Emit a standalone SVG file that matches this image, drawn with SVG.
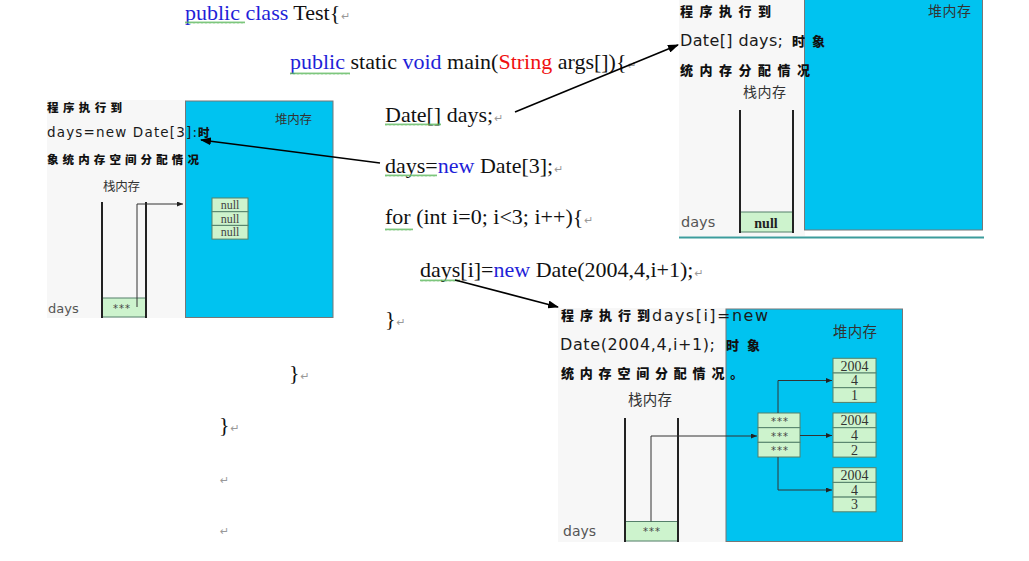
<svg xmlns="http://www.w3.org/2000/svg" width="1029" height="561" viewBox="0 0 1029 561">
<defs>
<pattern id="sq" x="0" y="0" width="4" height="3" patternUnits="userSpaceOnUse"><path d="M0 2.5 L1 0.5 L2 2.5 L3 0.5 L4 2.5" fill="none" stroke="#5cb85c" stroke-width="0.8"/></pattern>
<marker id="ah" markerWidth="11" markerHeight="8" refX="10" refY="4" orient="auto" markerUnits="userSpaceOnUse"><path d="M0 0 L11 4 L0 8 z" fill="#000"/></marker>
<marker id="sa" markerWidth="6" markerHeight="5" refX="6" refY="2.5" orient="auto" markerUnits="userSpaceOnUse"><path d="M0 0 L6 2.5 L0 5 z" fill="#222"/></marker>
</defs>
<style>
.code{font-family:"Liberation Serif",serif;font-size:22px;fill:#111}
.kw{fill:#1f1fd8}
.red{fill:#f01010}
.ret{font-family:"DejaVu Sans",sans-serif;font-size:11px;fill:#999}
.sq{fill:url(#sq)}
.cn{font-family:"Noto Sans CJK SC",sans-serif;font-weight:900;fill:#111}
.lat{font-family:"DejaVu Sans",sans-serif;fill:#1a1a1a}
.lbl{font-family:"Noto Sans CJK SC",sans-serif;fill:#333}
.heap{fill:#00c3f0;stroke:#777;stroke-width:1}
.bg{fill:#f7f7f7}
.cell{fill:#cdf3cd;stroke:#55806a;stroke-width:1}
.wall{stroke:#222;stroke-width:2;fill:none}
.ln{stroke:#333;stroke-width:1;fill:none}
.big{stroke:#000;stroke-width:1.6;fill:none}
.num{font-family:"Liberation Serif",serif;font-size:14px;fill:#333;text-anchor:middle}
.nul{font-family:"Liberation Serif",serif;font-size:12px;fill:#444;text-anchor:middle}
.star{font-family:"DejaVu Sans",sans-serif;font-size:10px;fill:#444;text-anchor:middle;letter-spacing:1px}
.days{font-family:"DejaVu Sans",sans-serif;fill:#555}
</style>
<rect x="0" y="0" width="1029" height="561" fill="#fff"/>

<g id="code">
<text class="code" x="185" y="20"><tspan class="kw">public class</tspan> Test{<tspan class="ret" dx="1">↵</tspan></text>
<text class="code" x="290" y="68.5"><tspan class="kw">public</tspan> static <tspan class="kw">void</tspan> main(<tspan class="red">String</tspan> args[]){<tspan class="ret" dx="1">↵</tspan></text>
<text class="code" x="385" y="121.5">Date[] days;<tspan class="ret" dx="1">↵</tspan></text>
<text class="code" x="385" y="172.5">days=<tspan class="kw">new</tspan> Date[3];<tspan class="ret" dx="1">↵</tspan></text>
<text class="code" x="385" y="224">for (int i=0; i&lt;3; i++){<tspan class="ret" dx="1">↵</tspan></text>
<text class="code" x="420" y="276.5">days[i]=<tspan class="kw">new</tspan> Date(2004,4,i+1);<tspan class="ret" dx="1">↵</tspan></text>
<text class="code" x="385" y="326">}<tspan class="ret" dx="1">↵</tspan></text>
<text class="code" x="289" y="380">}<tspan class="ret" dx="1">↵</tspan></text>
<text class="code" x="219" y="432">}<tspan class="ret" dx="1">↵</tspan></text>
<text class="ret" x="220" y="484">↵</text>
<text class="ret" x="220" y="535">↵</text>
<rect class="sq" x="185" y="21" width="60" height="3"/>
<rect class="sq" x="290" y="72" width="60" height="3"/>
<rect class="sq" x="385" y="123" width="56" height="3"/>
<rect class="sq" x="385" y="174" width="52" height="3"/>
<rect class="sq" x="385" y="228" width="28" height="3"/>
<rect class="sq" x="420" y="279" width="40" height="3"/>
</g>

<g id="panel-left">
<rect class="bg" x="47" y="100" width="139" height="218"/>
<rect class="heap" x="185.5" y="101" width="147.5" height="216.5"/>
<text class="lbl" x="275" y="124" font-size="12.5" textLength="37" lengthAdjust="spacing">堆内存</text>
<text class="cn" x="47" y="112" font-size="11.5" letter-spacing="4.4">程序执行到</text>
<text class="lat" x="47" y="137" font-size="13.5" textLength="150" lengthAdjust="spacing">days=new Date[3]:</text>
<text class="cn" x="198" y="137" font-size="11.5">时</text>
<text class="cn" x="47" y="164" font-size="11.5" letter-spacing="4.1">象统内存空间分配情况</text>
<text class="lbl" x="103" y="191" font-size="12.5" textLength="37" lengthAdjust="spacing">栈内存</text>
<rect class="cell" x="102" y="298" width="44" height="19"/>
<path class="wall" d="M102 202 V318 M146 202 V318"/>
<text class="star" x="122" y="312">***</text>
<text class="days" x="48" y="313" font-size="13">days</text>
</g>

<g id="null-array">
<rect class="cell" x="212" y="198" width="36" height="13.7"/>
<rect class="cell" x="212" y="211.7" width="36" height="13.7"/>
<rect class="cell" x="212" y="225.4" width="36" height="13.7"/>
<text class="nul" x="230" y="209">null</text>
<text class="nul" x="230" y="222.5">null</text>
<text class="nul" x="230" y="236">null</text>
</g>

<g id="panel-top-right">
<rect class="bg" x="679" y="0" width="126" height="236"/>
<rect class="heap" x="804.5" y="-1" width="178" height="231"/>
<path d="M679 237.5 H984" stroke="#3c9c9c" stroke-width="2"/>
<text class="lbl" x="928" y="16" font-size="14" textLength="43" lengthAdjust="spacing">堆内存</text>
<text class="cn" x="680" y="16" font-size="13" letter-spacing="6.5">程序执行到</text>
<text class="lat" x="680" y="45.5" font-size="16" textLength="103" lengthAdjust="spacing">Date[] days;</text>
<text class="cn" x="792" y="45.5" font-size="13">时</text>
<text class="cn" x="812" y="45.5" font-size="13">象</text>
<text class="cn" x="680" y="75" font-size="13" letter-spacing="6.5">统内存分配情况</text>
<text class="lbl" x="743" y="97" font-size="14" textLength="43" lengthAdjust="spacing">栈内存</text>
<rect class="cell" x="740" y="212" width="53" height="20"/>
<path class="wall" d="M740 110 V233 M793 110 V233"/>
<text x="766" y="227.5" font-family="Liberation Serif, serif" font-weight="bold" font-size="14" fill="#222" text-anchor="middle">null</text>
<text class="days" x="681" y="227" font-size="14.5">days</text>
</g>

<g id="panel-bottom-right">
<rect class="bg" x="558" y="308" width="168" height="234"/>
<rect class="heap" x="726" y="309" width="176.5" height="232.5"/>
<text class="lbl" x="833" y="337" font-size="14.5" textLength="44" lengthAdjust="spacing">堆内存</text>
<text class="cn" x="561" y="320" font-size="13" letter-spacing="6">程序执行到</text>
<text class="lat" x="652" y="321" font-size="16" textLength="116" lengthAdjust="spacing">days[i]=new</text>
<text class="lat" x="560" y="350" font-size="16" textLength="155" lengthAdjust="spacing">Date(2004,4,i+1);</text>
<text class="cn" x="726" y="350" font-size="13">时</text>
<text class="cn" x="747" y="350" font-size="13">象</text>
<text class="cn" x="561" y="378" font-size="13" letter-spacing="5.8">统内存空间分配情况。</text>
<text class="lbl" x="628" y="405" font-size="14.5" textLength="44" lengthAdjust="spacing">栈内存</text>
<rect class="cell" x="625" y="521.5" width="53" height="19.5"/>
<path class="wall" d="M625 418 V542 M678 418 V542"/>
<text class="star" x="652" y="535">***</text>
<text class="days" x="563" y="536" font-size="14">days</text>
</g>

<g id="ref-array">
<rect class="cell" x="758" y="413" width="42" height="14.67"/>
<rect class="cell" x="758" y="427.67" width="42" height="14.67"/>
<rect class="cell" x="758" y="442.33" width="42" height="14.67"/>
<text class="star" x="780" y="425">***</text>
<text class="star" x="780" y="439.7">***</text>
<text class="star" x="780" y="454.3">***</text>
</g>

<g id="date-1">
<rect class="cell" x="833" y="358.3" width="43" height="14.7"/>
<rect class="cell" x="833" y="373" width="43" height="14.7"/>
<rect class="cell" x="833" y="387.7" width="43" height="14.7"/>
<text class="num" x="854.5" y="370.5">2004</text>
<text class="num" x="854.5" y="385.2">4</text>
<text class="num" x="854.5" y="399.9">1</text>
</g>
<g id="date-2">
<rect class="cell" x="833" y="413" width="43" height="14.7"/>
<rect class="cell" x="833" y="427.7" width="43" height="14.7"/>
<rect class="cell" x="833" y="442.4" width="43" height="14.7"/>
<text class="num" x="854.5" y="425.2">2004</text>
<text class="num" x="854.5" y="439.9">4</text>
<text class="num" x="854.5" y="454.6">2</text>
</g>
<g id="date-3">
<rect class="cell" x="833" y="467.7" width="43" height="14.7"/>
<rect class="cell" x="833" y="482.4" width="43" height="14.7"/>
<rect class="cell" x="833" y="497.1" width="43" height="14.7"/>
<text class="num" x="854.5" y="479.9">2004</text>
<text class="num" x="854.5" y="494.6">4</text>
<text class="num" x="854.5" y="509.3">3</text>
</g>

<g id="connectors">
<path class="big" d="M515 112 L678 45" marker-end="url(#ah)"/>
<path class="big" d="M380 163 L201 140" marker-end="url(#ah)"/>
<path class="big" d="M455 280 L558 307" marker-end="url(#ah)"/>
<path class="ln" d="M137 307 V204 H183" marker-end="url(#sa)"/>
<path class="ln" d="M651 521.5 V436 H757" marker-end="url(#sa)"/>
<path class="ln" d="M778 413 V380.5 H832" marker-end="url(#sa)"/>
<path class="ln" d="M800 435.5 H832" marker-end="url(#sa)"/>
<path class="ln" d="M778 457 V490 H832" marker-end="url(#sa)"/>
</g>
</svg>
